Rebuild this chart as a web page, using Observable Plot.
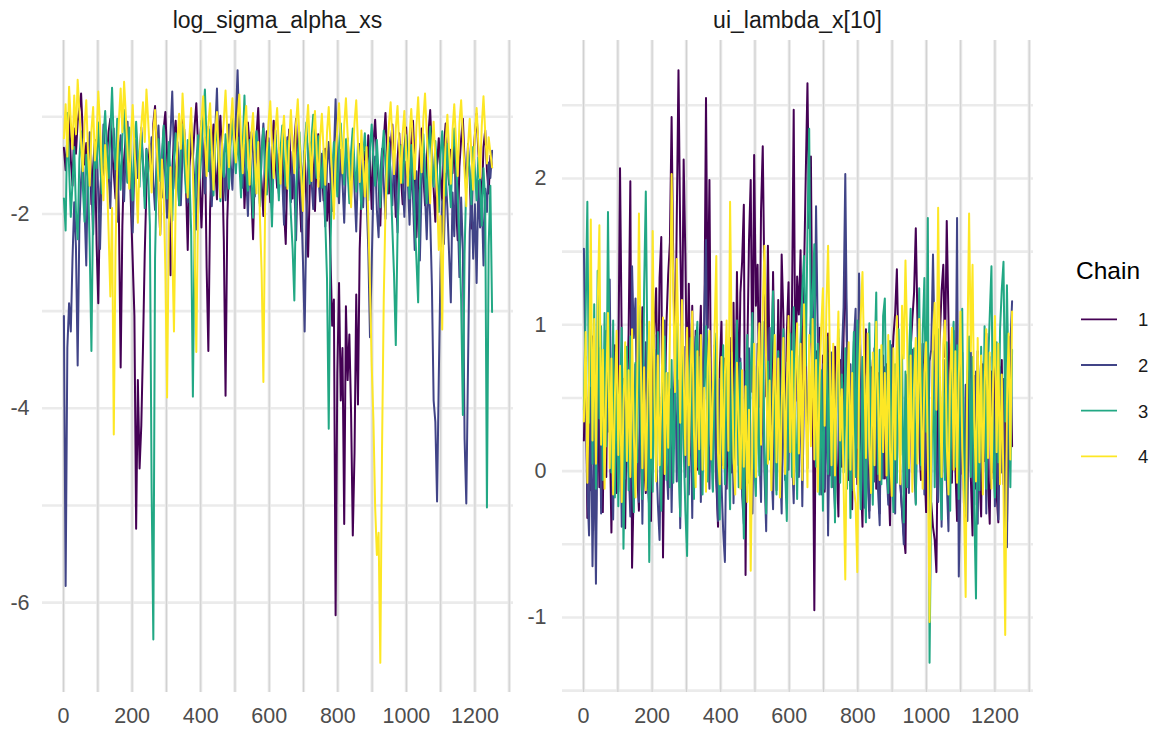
<!DOCTYPE html>
<html><head><meta charset="utf-8">
<script src="https://cdn.jsdelivr.net/npm/d3@7"></script>
<script src="https://cdn.jsdelivr.net/npm/@observablehq/plot@0.6"></script>
<style>
body{margin:0;background:#fff;}
#wrap{position:relative;width:1159px;height:731px;overflow:hidden;font-family:"Liberation Sans",Arial,sans-serif;}
#wrap > svg{position:absolute;top:0;}
</style></head><body><div id="wrap"></div>
<script>
// ---------- data ----------
const chains = ["1","2","3","4"];
const chainColors = ["#440154","#414487","#22A884","#FDE725"];
const nIterations = 1250;
const panelTitles = ["log_sigma_alpha_xs","ui_lambda_x[10]"];
const legendTitle = "Chain";
const ticksX = [0,200,400,600,800,1000,1200];
const ticksYLeft = [-6,-4,-2];
const ticksYRight = [-1,0,1,2];

// log_sigma_alpha_xs, thinned draws (every ~5th iteration), per chain
const sigmaChain1 = [
-1.32,-1.55,-1.21,-0.98,-1.44,-1.71,-1.12,-1.38,-1.05,-0.92,-0.76,-1.18,-1.49,-1.27,-1.63,-1.35,-1.90,-1.52,-1.24,-2.31,-2.92,-1.86,-1.47,-1.66,-1.29,
-1.41,-1.15,-1.02,-1.36,-1.58,-1.84,-1.26,-2.05,-3.58,-2.12,-1.44,-1.19,-1.67,-1.31,-1.93,-2.48,-3.05,-5.24,-3.71,-4.62,-4.18,-3.36,-2.41,-1.72,-1.49,
-1.28,-1.62,-1.07,-0.89,-1.35,-1.76,-2.21,-1.48,-1.13,-0.95,-1.39,-1.84,-2.63,-1.57,-1.22,-1.04,-1.46,-1.91,-1.33,-0.97,-1.18,-1.71,-2.37,-1.52,-1.25,
-1.43,-1.10,-0.86,-1.29,-1.67,-2.14,-1.58,-1.21,-2.55,-3.41,-1.96,-1.37,-1.08,-1.52,-1.85,-1.26,-0.99,-1.44,-2.28,-3.87,-2.06,-1.49,-1.17,-0.94,-1.31,
-1.12,-0.84,-1.37,-1.63,-1.25,-1.94,-1.48,-1.06,-1.31,-1.78,-2.26,-1.55,-1.19,-0.91,-1.42,-1.69,-2.02,-1.36,-1.15,-1.57,-1.88,-1.29,-1.04,-1.46,-1.73,
-1.38,-1.61,-1.22,-1.95,-2.31,-1.47,-1.13,-1.56,-1.84,-1.27,-1.02,-1.49,-1.76,-2.18,-1.64,-1.35,-1.88,-2.44,-1.71,-1.26,-1.53,-1.97,-1.40,-1.18,-1.62,
-1.54,-1.86,-1.33,-2.07,-1.69,-2.42,-3.15,-2.88,-6.13,-3.64,-2.71,-3.92,-3.38,-5.19,-2.95,-3.71,-3.24,-4.05,-5.31,-4.46,-2.83,-3.96,-2.36,-1.78,-1.45,
-1.36,-1.72,-1.19,-1.48,-1.95,-1.27,-1.03,-1.41,-1.67,-2.12,-1.50,-1.24,-0.96,-1.38,-1.79,-1.31,-1.08,-1.55,-2.03,-1.44,-1.17,-1.62,-1.90,-1.33,-1.11,
-1.47,-1.82,-1.26,-1.04,-1.53,-2.24,-1.69,-1.35,-1.12,-1.58,-1.91,-1.40,-1.16,-0.93,-1.37,-1.74,-2.08,-1.49,-1.22,-1.61,-1.86,-1.30,-1.07,-1.45,-1.70,
-1.34,-1.58,-1.15,-1.89,-2.27,-1.51,-1.23,-1.02,-1.46,-1.73,-1.28,-1.64,-2.15,-1.42,-1.19,-0.97,-1.36,-1.62,-1.87,-1.31,-1.14,-1.55,-1.79,-1.40,-1.52
];
const sigmaChain2 = [
-3.05,-5.83,-3.38,-2.92,-3.21,-2.46,-1.88,-2.34,-3.56,-2.11,-1.65,-1.37,-1.92,-2.53,-1.48,-1.16,-1.73,-2.21,-1.54,-1.29,-1.81,-2.36,-1.62,-1.08,-1.43,
-1.27,-1.58,-1.94,-1.35,-1.12,-1.66,-2.08,-1.41,-1.19,-1.53,-1.87,-1.30,-1.05,-1.46,-1.76,-2.19,-1.52,-1.24,-1.63,-1.39,-1.11,-1.48,-1.82,-1.33,-1.57,
-1.44,-1.21,-1.68,-1.96,-1.37,-1.09,-1.55,-1.83,-1.29,-1.62,-2.04,-1.47,-1.18,-0.74,-1.41,-1.74,-1.26,-1.52,-1.91,-1.35,-1.13,-1.60,-1.88,-1.32,-1.06,
-1.39,-1.71,-2.16,-1.50,-1.23,-1.04,-1.45,-1.79,-1.33,-1.10,-1.57,-1.92,-1.38,-1.15,-0.71,-1.42,-1.69,-1.27,-1.54,-1.86,-1.31,-1.08,-1.49,-1.75,-1.20,
-1.02,-0.52,-1.18,-1.46,-1.73,-1.29,-1.61,-2.02,-1.44,-1.16,-1.37,-1.82,-1.25,-1.53,-1.90,-1.34,-1.07,-1.48,-1.77,-1.22,-1.59,-1.96,-1.40,-1.14,-1.51,
-1.79,-1.32,-1.65,-2.11,-1.47,-1.21,-1.56,-1.88,-1.36,-1.71,-2.27,-1.59,-1.30,-1.84,-2.48,-3.21,-2.06,-1.54,-1.27,-1.66,-1.95,-1.43,-1.18,-1.61,-1.87,
-1.38,-1.72,-2.13,-1.50,-1.26,-1.63,-1.97,-1.41,-0.82,-1.58,-1.89,-1.34,-1.67,-2.09,-1.46,-1.22,-1.55,-1.83,-1.31,-1.74,-2.18,-1.52,-1.28,-1.65,-1.93,
-1.47,-1.82,-2.36,-3.27,-2.51,-1.73,-1.41,-1.96,-2.24,-1.58,-1.33,-1.69,-2.05,-1.44,-1.21,-1.62,-1.91,-1.37,-1.76,-2.19,-1.55,-1.29,-1.68,-2.03,-1.46,
-1.64,-2.11,-1.49,-1.83,-2.37,-1.56,-1.92,-2.48,-1.71,-1.38,-1.80,-2.26,-1.62,-2.03,-2.74,-3.92,-4.14,-4.96,-3.68,-2.57,-1.86,-2.31,-1.59,-1.94,-2.42,
-2.91,-1.78,-2.23,-1.55,-1.97,-2.65,-1.83,-2.38,-4.31,-4.98,-3.57,-2.19,-1.72,-2.46,-1.90,-2.71,-1.66,-2.14,-1.81,-2.53,-1.74,-1.98,-1.47,-1.63,-1.35
];
const sigmaChain3 = [
-1.84,-2.17,-0.96,-1.52,-2.03,-1.68,-1.31,-1.97,-2.26,-1.43,-1.15,-1.72,-2.08,-1.39,-1.61,-2.34,-3.41,-1.88,-1.27,-1.53,-1.06,-1.44,-1.79,-1.22,-0.94,
-1.36,-1.63,-1.18,-0.70,-1.27,-1.54,-1.02,-1.41,-1.75,-1.20,-0.93,-1.33,-1.68,-1.11,-1.47,-1.86,-1.29,-1.05,-1.39,-1.72,-1.16,-1.50,-1.94,-1.34,-1.58,
-2.12,-4.82,-6.38,-2.46,-1.57,-1.23,-1.66,-1.38,-1.09,-1.51,-1.84,-1.26,-1.62,-2.07,-1.43,-1.17,-1.55,-1.91,-1.32,-1.08,-1.47,-1.78,-1.24,-1.59,-2.18,
-3.88,-2.21,-1.46,-1.19,-1.63,-1.37,-1.02,-0.72,-1.28,-1.56,-1.13,-1.45,-1.81,-1.29,-1.06,-1.51,-1.87,-1.33,-1.62,-1.18,-1.41,-1.74,-1.25,-0.99,-1.37,
-1.58,-1.21,-1.46,-1.83,-1.30,-0.78,-1.52,-1.76,-1.24,-1.61,-2.04,-1.39,-1.15,-1.48,-1.92,-1.35,-1.12,-1.57,-1.80,-1.27,-1.64,-2.13,-1.42,-1.19,-1.53,
-1.86,-1.33,-1.09,-1.48,-1.71,-1.25,-1.58,-2.01,-2.36,-2.89,-1.74,-1.40,-1.16,-1.54,-1.83,-1.29,-1.06,-1.45,-1.69,-1.22,-0.98,-1.37,-1.63,-1.20,-1.47,
-1.73,-1.35,-2.08,-2.67,-4.21,-2.34,-1.58,-1.26,-1.49,-1.82,-1.31,-1.07,-1.44,-1.70,-1.23,-1.56,-1.89,-1.36,-1.12,-1.51,-1.77,-1.28,-1.62,-1.95,-1.41,
-1.17,-1.53,-1.86,-1.32,-1.08,-1.46,-1.71,-1.24,-1.59,-1.93,-1.38,-1.14,-1.50,-1.79,-1.27,-1.63,-2.15,-2.64,-3.35,-2.22,-1.57,-1.30,-1.68,-1.41,-1.19,
-1.52,-1.84,-1.29,-1.61,-2.03,-2.47,-2.91,-1.76,-1.43,-1.18,-1.56,-1.89,-1.34,-1.10,-1.47,-1.72,-1.25,-1.60,-1.98,-1.39,-1.15,-1.54,-1.81,-1.28,-1.65,
-1.93,-1.37,-1.12,-1.49,-1.78,-2.25,-2.88,-4.07,-2.41,-1.66,-1.34,-1.58,-1.90,-1.31,-1.55,-1.86,-1.42,-1.69,-2.12,-1.53,-1.88,-5.02,-2.33,-1.71,-3.01
];
const sigmaChain4 = [
-1.22,-0.87,-1.41,-0.69,-1.05,-1.33,-0.78,-1.18,-0.62,-0.94,-1.27,-1.56,-1.09,-0.83,-1.36,-1.71,-1.14,-0.90,-1.45,-1.22,-0.74,-1.08,-1.53,-1.86,-1.29,
-1.62,-2.19,-2.85,-1.94,-4.27,-2.38,-1.47,-1.03,-0.71,-1.16,-0.64,-0.98,-1.35,-1.74,-1.21,-0.88,-1.30,-1.67,-2.09,-1.43,-1.10,-0.85,-1.26,-0.72,-1.04,
-1.39,-1.78,-1.15,-0.93,-1.31,-1.68,-2.22,-1.44,-1.81,-2.57,-3.89,-2.13,-1.52,-2.34,-3.21,-1.87,-1.26,-0.97,-1.33,-0.76,-1.12,-1.48,-1.83,-1.20,-0.91,
-1.57,-2.29,-3.42,-1.96,-1.38,-1.02,-0.79,-1.25,-1.61,-1.08,-0.86,-1.32,-1.75,-1.19,-0.95,-1.41,-1.83,-1.27,-1.04,-0.73,-1.16,-1.52,-1.09,-0.81,-1.24,
-1.47,-1.03,-0.77,-1.21,-1.58,-1.12,-0.89,-1.35,-1.70,-1.18,-0.96,-1.42,-1.79,-1.26,-2.04,-2.61,-3.73,-1.92,-1.37,-1.06,-0.84,-1.29,-1.63,-1.14,-0.91,
-1.33,-1.69,-1.20,-0.99,-1.38,-1.74,-1.25,-0.93,-1.31,-1.58,-1.07,-0.82,-1.24,-1.61,-1.97,-1.40,-1.13,-0.88,-1.29,-1.66,-1.18,-0.94,-1.36,-1.72,-1.23,
-0.97,-1.34,-1.70,-1.16,-0.90,-1.27,-1.63,-2.05,-1.46,-1.11,-0.86,-1.22,-1.58,-1.09,-0.81,-1.19,-1.55,-1.93,-1.38,-1.06,-0.83,-1.28,-1.67,-1.14,-1.49,
-1.82,-1.31,-2.05,-2.74,-3.56,-4.13,-5.02,-5.51,-5.28,-6.62,-4.41,-2.87,-1.95,-1.42,-1.08,-0.85,-1.23,-1.59,-1.12,-0.89,-1.31,-1.68,-1.17,-0.94,-1.36,
-1.71,-1.19,-0.92,-1.28,-1.64,-1.10,-0.80,-1.21,-1.57,-1.03,-0.76,-1.17,-1.52,-1.89,-1.33,-1.05,-1.44,-1.81,-2.37,-2.02,-3.19,-1.74,-1.26,-0.98,-1.35,
-1.69,-1.14,-0.87,-1.25,-1.61,-1.07,-0.83,-1.20,-1.56,-1.92,-1.30,-1.02,-1.39,-1.75,-1.18,-0.91,-1.27,-1.63,-1.09,-0.79,-1.16,-1.48,-1.21,-1.37,-1.52
];

// ui_lambda_x[10], thinned draws, per chain
const lambdaChain1 = [
0.21,0.78,-0.32,0.65,-0.13,0.92,-0.02,-0.41,0.71,-0.11,0.57,-0.28,0.83,-0.04,1.04,0.31,-0.42,0.52,0.86,-0.15,0.68,2.07,0.87,-0.07,-0.39,
0.49,0.94,1.98,-0.66,-0.09,0.73,-0.01,-0.27,0.66,1.12,0.04,-0.15,0.81,-0.03,-0.34,0.63,0.99,1.25,0.42,1.32,1.60,-0.59,0.46,1.01,1.34,
1.56,2.42,1.38,0.67,1.73,2.74,1.61,0.76,2.13,1.47,0.52,1.28,0.38,1.13,0.14,0.96,0.01,0.79,1.13,0.17,0.91,2.55,0.98,1.99,0.25,
0.08,0.86,-0.07,-0.38,0.69,1.02,0.04,0.77,-0.12,0.63,0.91,-0.01,1.15,0.24,1.36,0.47,1.22,1.43,1.82,-0.71,0.78,1.57,1.99,0.54,2.16,
1.13,1.41,0.44,1.78,2.22,1.25,0.51,1.54,0.68,0.32,1.36,0.59,0.23,1.17,0.41,1.48,1.05,0.16,0.94,1.29,0.37,1.12,2.47,0.48,1.33,
1.07,1.51,0.39,1.34,2.01,2.65,1.66,2.15,0.63,-0.95,0.82,0.15,0.98,0.01,0.79,-0.14,0.68,0.94,-0.03,0.72,-0.11,0.85,0.08,-0.31,0.76,
0.03,0.91,1.45,0.82,-0.06,0.66,-0.26,0.59,0.88,-0.09,0.74,-0.01,-0.38,0.62,0.97,0.05,-0.27,0.71,-0.02,0.84,-0.12,0.67,-0.29,0.56,0.79,
-0.05,0.73,0.01,-0.37,0.64,0.92,1.08,1.38,0.77,-0.08,-0.28,-0.43,-0.56,0.61,-0.01,0.83,1.04,1.22,1.66,1.01,0.19,-0.06,0.87,0.06,-0.28,
0.63,-0.15,-0.22,-0.38,-0.47,-0.69,0.57,0.92,1.23,1.41,0.78,1.71,1.04,0.16,-0.08,0.77,0.03,-0.34,0.69,-0.02,0.81,-0.13,-0.39,0.59,0.74,
-0.04,-0.44,0.65,-0.12,0.82,0.01,-0.31,0.73,0.07,0.94,-0.07,-0.36,0.68,-0.01,0.87,-0.16,-0.35,0.58,0.76,-0.09,0.63,-0.41,0.55,0.92,0.17
];
const lambdaChain2 = [
1.52,0.63,-0.12,-0.44,0.57,-0.65,0.22,-0.77,0.49,0.84,-0.29,0.71,0.02,0.96,0.27,1.31,0.15,-0.33,0.49,0.74,-0.14,0.58,-0.38,0.63,-0.05,
0.82,0.04,-0.31,1.40,0.91,1.18,0.26,-0.21,0.61,-0.36,0.47,0.88,-0.06,-0.25,0.69,0.02,0.93,0.14,-0.22,-0.47,0.39,0.75,1.03,0.06,-0.19,
0.56,-0.28,0.41,0.79,-0.07,0.62,-0.39,0.47,0.85,-0.04,0.71,-0.16,0.59,-0.32,0.67,0.92,0.03,0.78,-0.21,0.54,1.06,1.58,0.24,-0.12,0.61,
-0.13,0.69,0.01,-0.34,0.63,-0.08,-0.41,-0.62,0.46,0.81,-0.03,0.73,-0.22,0.65,0.92,0.04,0.77,-0.17,-0.36,0.68,-0.01,0.84,0.08,-0.29,0.72,
0.03,0.87,0.14,-0.21,0.76,-0.02,-0.41,0.61,0.98,0.05,-0.26,0.69,-0.13,0.82,0.09,-0.29,0.66,-0.06,0.74,0.01,0.93,0.13,-0.22,0.57,0.79,
-0.04,0.68,-0.24,0.57,0.89,0.02,0.77,1.05,1.24,0.56,1.81,0.92,0.11,-0.16,0.73,-0.12,0.66,-0.44,0.45,0.81,-0.01,-0.26,0.64,0.91,0.03,
0.78,1.12,2.03,0.86,0.09,0.73,-0.13,0.88,1.11,0.16,1.35,0.67,0.01,-0.25,0.64,-0.02,-0.32,0.57,0.76,-0.07,0.69,-0.12,-0.37,0.62,-0.05,
0.71,0.02,-0.23,0.65,0.86,-0.01,-0.29,0.58,0.74,-0.08,-0.26,-0.50,0.47,0.66,-0.15,0.59,0.83,0.04,-0.22,0.67,0.91,0.01,0.73,-0.16,0.61,
-0.01,0.75,0.83,1.48,0.82,0.07,-0.21,0.64,-0.38,0.52,0.76,-0.07,-0.41,0.58,0.87,0.96,0.21,1.73,-0.72,-0.04,0.67,-0.22,0.59,-0.34,0.63,
0.81,0.04,-0.23,0.68,-0.36,0.51,0.75,-0.07,0.62,-0.29,0.57,0.78,-0.05,0.66,-0.24,0.59,-0.33,0.71,-0.01,0.63,-0.44,-0.52,0.58,0.86,1.16
];
const lambdaChain3 = [
0.42,1.07,1.84,0.33,1.21,0.05,1.14,-0.12,1.37,0.36,0.99,-0.06,1.08,0.17,1.77,0.61,-0.01,1.03,-0.18,0.81,-0.24,0.56,0.98,-0.53,0.22,
0.85,-0.13,0.92,0.11,-0.28,0.74,0.06,1.13,0.39,-0.19,1.24,1.91,0.68,-0.62,0.49,-0.14,0.83,0.01,0.95,0.23,-0.27,0.58,0.92,-0.06,0.67,
-0.11,0.76,-0.08,0.54,1.01,0.05,-0.31,0.79,0.16,-0.27,-0.58,0.43,0.91,0.11,-0.19,0.84,1.02,-0.02,0.65,-0.16,0.57,0.99,-0.07,0.78,0.21,
-0.14,0.62,0.94,0.07,-0.33,0.59,0.86,-0.09,0.77,0.22,-0.26,0.81,0.05,0.58,1.03,-0.11,0.74,0.19,-0.46,0.46,0.93,-0.08,0.67,1.08,0.04,
-0.17,0.69,-0.03,0.51,1.02,0.14,-0.29,0.75,0.08,0.87,1.23,0.19,-0.16,0.82,-0.04,0.63,0.97,0.01,-0.34,0.58,0.94,-0.04,1.12,0.35,-0.19,
0.58,0.91,1.24,1.47,0.72,1.63,2.34,0.88,1.22,1.55,0.03,0.87,-0.16,0.69,-0.27,0.58,0.92,-0.02,0.81,-0.11,0.63,-0.35,0.56,0.97,-0.08,
0.66,-0.01,0.84,-0.12,0.61,-0.32,0.57,0.95,-0.04,1.03,0.22,-0.26,0.78,0.03,-0.35,0.69,1.01,0.14,-0.23,0.75,1.22,-0.02,0.83,-0.09,1.06,
1.18,0.17,-0.15,0.89,0.06,-0.28,0.73,-0.08,0.97,0.11,0.82,-0.35,0.68,-0.11,0.76,1.11,-0.01,0.84,-0.23,0.62,1.25,0.04,0.93,1.32,0.27,
1.73,-1.31,-0.12,0.82,-0.11,0.63,0.97,0.01,-0.33,0.76,-0.06,0.88,0.17,-0.27,0.79,1.02,0.03,0.86,-0.19,0.64,1.11,-0.01,-0.29,0.68,0.92,
-0.04,0.78,-0.24,-0.87,0.61,-0.13,0.85,0.02,0.99,-0.12,0.71,1.06,1.40,0.13,-0.18,0.88,0.06,0.97,1.24,1.43,0.34,1.27,0.55,-0.11,0.83
];
const lambdaChain4 = [
0.34,0.95,-0.08,0.62,1.72,0.21,1.04,0.05,1.12,1.68,0.18,0.83,-0.12,0.58,1.08,0.02,0.77,-0.16,0.49,0.96,0.11,0.72,-0.21,0.44,0.88,
0.07,0.69,-0.04,0.97,0.26,-0.18,0.61,1.76,0.83,0.02,0.71,-0.13,0.52,1.02,0.09,1.64,0.55,-0.07,0.79,0.04,0.48,1.05,-0.02,0.67,0.16,
0.92,2.03,1.21,0.54,1.45,0.88,0.33,1.17,0.66,0.11,0.98,0.04,0.63,1.09,0.26,-0.11,0.82,0.15,0.93,0.01,0.57,-0.14,0.71,0.96,0.08,
0.54,0.97,1.47,0.12,-0.09,0.78,0.02,0.66,1.03,0.14,1.84,0.81,0.09,-0.16,0.74,0.35,-0.12,0.69,0.03,0.58,-0.21,0.42,-0.68,0.27,0.87,
-0.04,0.66,1.01,0.18,1.12,1.54,0.71,0.05,0.62,-0.13,0.49,0.93,0.06,0.77,-0.18,0.44,0.91,-0.02,0.58,1.06,0.13,0.82,-0.09,0.64,1.01,
0.12,0.87,-0.06,1.14,0.45,-0.11,0.93,0.17,1.04,0.08,0.76,-0.14,0.59,0.98,1.25,0.31,1.11,1.54,0.82,0.04,0.87,-0.03,0.66,1.09,0.21,
0.56,-0.08,-0.74,0.45,0.88,0.01,0.67,-0.12,-0.22,-0.69,0.62,1.07,1.36,0.73,0.09,0.94,0.18,-0.15,0.81,0.04,1.02,0.53,-0.06,0.86,0.13,
0.67,-0.03,0.93,0.15,-0.17,0.84,0.08,1.06,0.51,-0.09,1.13,0.77,1.44,0.88,0.02,0.79,-0.14,0.58,0.91,0.05,1.04,0.46,-0.12,0.67,0.88,
0.09,-1.03,0.24,0.91,1.15,0.42,1.80,0.68,-0.04,0.87,1.03,0.19,-0.16,0.66,0.98,0.01,0.82,-0.08,0.64,1.09,0.15,-0.23,-0.86,0.83,1.76,
0.82,1.41,0.35,-0.07,0.91,0.06,0.79,-0.16,0.58,0.97,0.09,0.81,-0.12,0.63,1.06,0.13,0.87,-0.09,0.66,-0.12,-1.12,0.45,0.94,0.08,1.09
];

// ---------- drawing ----------
const W = 1159, H = 731;
const wrap = document.getElementById("wrap");
const fontFamily = '"Liberation Sans", Arial, Helvetica, sans-serif';

function tidy(series) {
  const rows = [];
  series.forEach((vals, ci) => {
    const step = (nIterations - 1) / (vals.length - 1);
    vals.forEach((v, k) => rows.push({iteration: 1 + k * step, value: v, chain: chains[ci]}));
  });
  return rows;
}

function makePanel(series, ticksY, gridStepY, cfg) {
  const data = tidy(series);
  const [lo, hi] = d3.extent(data, d => d.value);
  const padY = 0.05 * (hi - lo);
  const yDomain = [lo - padY, hi + padY];
  const padX = 0.05 * (nIterations - 1);
  const xDomain = [1 - padX, nIterations + padX];
  const gridY = d3.range(Math.ceil(yDomain[0] / gridStepY - 0.05), Math.floor(yDomain[1] / gridStepY) + 1).map(k => k * gridStepY);
  const gridX = d3.range(0, xDomain[1], 100);
  const svg = Plot.plot({
    width: cfg.width, height: H,
    marginLeft: cfg.marginLeft, marginRight: cfg.marginRight, marginTop: 40, marginBottom: 39,
    style: {fontFamily, fontSize: "21.5px", color: "#4d4d4d", background: "transparent", overflow: "visible"},
    x: {domain: xDomain},
    y: {domain: yDomain},
    color: {domain: chains, range: chainColors},
    marks: [
      Plot.ruleY(gridY, {stroke: "#ebebeb", strokeWidth: 2.6}),
      Plot.ruleX(gridX, {stroke: "#e9e9e9", strokeWidth: 3.2}),
      Plot.ruleX(gridX, {stroke: "#cfcfcf", strokeWidth: 1}),
      Plot.line(data, {x: "iteration", y: "value", z: "chain", stroke: "chain", strokeWidth: 2}),
      Plot.axisX({ticks: ticksX, tickSize: 0, tickPadding: 15, tickFormat: d => String(d), fontSize: 21.5, label: null}),
      Plot.axisY({ticks: ticksY, tickSize: 0, tickPadding: cfg.padTick, tickFormat: d => String(d), fontSize: 21.5, label: null})
    ]
  });
  svg.style.left = cfg.left + "px";
  wrap.appendChild(svg);
  return {cx: cfg.left + cfg.marginLeft + (cfg.width - cfg.marginLeft - cfg.marginRight) / 2};
}

const leftPanel = makePanel([sigmaChain1, sigmaChain2, sigmaChain3, sigmaChain4], ticksYLeft, 1,
  {left: 0, width: 530, marginLeft: 42, marginRight: 17, padTick: 13});
const rightPanel = makePanel([lambdaChain1, lambdaChain2, lambdaChain3, lambdaChain4], ticksYRight, 0.5,
  {left: 530, width: 520, marginLeft: 32, marginRight: 17, padTick: 16});

// titles and legend
const over = d3.select(wrap).append("svg")
  .attr("width", W).attr("height", H)
  .style("left", "0px").style("font-family", fontFamily);
[leftPanel, rightPanel].forEach((p, i) => {
  over.append("text").attr("x", p.cx).attr("y", 28).attr("text-anchor", "middle")
    .attr("font-size", 23).attr("fill", "#1a1a1a").text(panelTitles[i]);
});
over.append("text").attr("x", 1076).attr("y", 279).attr("font-size", 24.5).attr("fill", "#000").text(legendTitle);
chains.forEach((c, i) => {
  const y = 319.3 + i * 45.7;
  over.append("line").attr("x1", 1081).attr("x2", 1117).attr("y1", y).attr("y2", y)
    .attr("stroke", chainColors[i]).attr("stroke-width", 1.8);
  over.append("text").attr("x", 1138).attr("y", y + 7).attr("font-size", 18.5).attr("fill", "#1a1a1a").text(c);
});
</script></body></html>
